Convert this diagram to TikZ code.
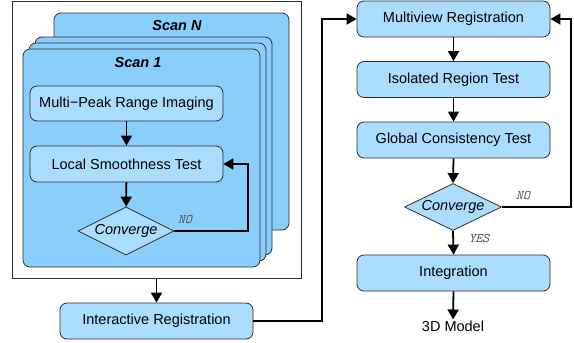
\documentclass[tikz,border=0pt]{standalone}
\usepackage{fontspec}
\setmainfont{Liberation Sans}
\usetikzlibrary{shapes.geometric, arrows.meta, positioning}
\definecolor{scanblue}{HTML}{8ACEFC}
\definecolor{stepblue}{HTML}{AADDFF}
\definecolor{edgegray}{HTML}{2E2E2E}
\tikzset{
	scanbox/.style={draw=edgegray, fill=scanblue, line width=0.8pt, rounded corners=7pt, inner sep=0pt},
	stepbox/.style={draw=edgegray, fill=stepblue, line width=0.8pt, rounded corners=7pt, minimum width=193pt, minimum height=36pt, font=\fontsize{14.5}{16}\selectfont},
	decision/.style={diamond, shape aspect=2, draw=edgegray, fill=stepblue, line width=0.8pt, inner sep=0pt, minimum width=97pt, minimum height=48pt, font=\fontsize{14.5}{16}\selectfont\itshape},
	flow/.style={line width=1.8pt, -{Triangle[length=10pt, width=11pt]}},
	answer/.style={font=\fontsize{13}{14}\selectfont\ttfamily\itshape, text=black!70}
}
\begin{document}
\begin{tikzpicture}[x=1pt, y=-1pt]
				\useasboundingbox (0,0) rectangle (574,343);
				% Outer frame round the scans
				\node[draw=edgegray, line width=0.8pt, minimum width=289pt, minimum height=277pt, inner sep=0pt] (frame) at (156.5,139.5) {};
				% Stack of scans
				\node[scanbox, minimum width=235pt, minimum height=217pt] (scanN) at (171.5,121.5) {};
				\node[scanbox, minimum width=237pt, minimum height=218pt] (scanC) at (153.5,146) {};
				\node[scanbox, minimum width=237pt, minimum height=218pt] (scanB) at (147.5,152) {};
				\node[scanbox, minimum width=237pt, minimum height=218pt] (scanA) at (141.5,158) {};
				\node[font=\fontsize{14.5}{16}\selectfont\bfseries\itshape] (scanNlabel) at (177,26) {Scan N};
				\node[font=\fontsize{14.5}{16}\selectfont\bfseries\itshape] (scanAlabel) at (138,63) {Scan 1};
				% Steps of one scan
				\node[stepbox, minimum height=35pt] (imaging) at (126.5,103.5) {Multi−Peak Range Imaging};
				\node[stepbox] (smooth) at (126.5,164) {Local Smoothness Test};
				\node[decision, minimum width=96pt] (convA) at (126,231) {Converge};
				\coordinate (loopA) at (248,164);
				\node[answer] (noA) at (185,220) {NO};
				% Registration of all scans
				\node[stepbox] (interactive) at (156.5,321) {Interactive Registration};
				\coordinate (bend) at (322,19);
				\node[stepbox] (multiview) at (453.5,19) {Multiview Registration};
				\node[stepbox] (isolated) at (453.5,79.5) {Isolated Region Test};
				\node[stepbox] (global) at (453.5,140) {Global Consistency Test};
				\node[decision, minimum height=47pt] (convB) at (453,207) {Converge};
				\coordinate (loopB) at (571,19);
				\node[answer] (noB) at (523,196) {NO};
				\node[answer] (yes) at (479,239) {YES};
				\node[stepbox] (integration) at (453.5,273) {Integration};
				\node[font=\fontsize{14.5}{16}\selectfont, inner sep=1pt] (model) at (453,326) {3D Model};
				% Connectors
				\draw[flow] (imaging) -- (smooth);
				\draw[flow] (smooth) -- (convA);
				\draw[flow] (convA.east) -| (loopA) -- (smooth.east);
				\draw[flow] (frame.south) -- (interactive.north);
				\draw[flow] (interactive.east) -| (bend) -- (multiview.west);
				\draw[flow] (multiview) -- (isolated);
				\draw[flow] (isolated) -- (global);
				\draw[flow] (global.south) -- (convB.north);
				\draw[flow] (convB.east) -| (loopB) -- (multiview.east);
				\draw[flow] (convB.south) -- (integration.north);
				\draw[flow] (integration.south) -- (model.north);
			\end{tikzpicture}
\end{document}
